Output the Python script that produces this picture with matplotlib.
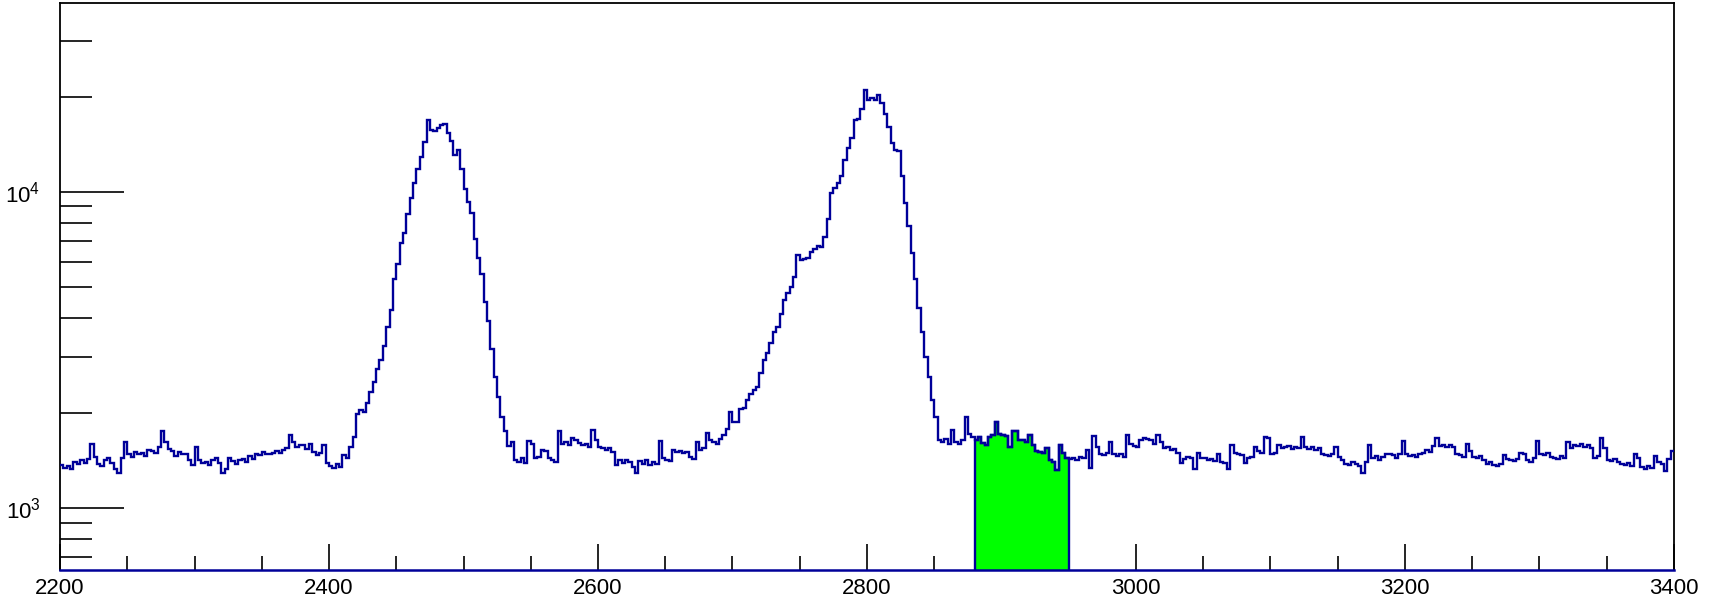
import numpy as np
import matplotlib
matplotlib.use("Agg")
from matplotlib import pyplot as plt
from matplotlib.ticker import MultipleLocator, LogLocator, NullFormatter

# histogram: 2.5-unit bins from 2200 to 3400
bin_lo = 2200
bin_hi = 3400
counts = [
    1370, 1340, 1360, 1330, 1400, 1380, 1420, 1390, 1430, 1600,   # 2200
    1450, 1380, 1360, 1420, 1440, 1390, 1330, 1290, 1440, 1620,
    1480, 1450, 1510, 1490, 1500, 1460, 1530, 1520, 1500, 1560,   # 2250
    1750, 1620, 1540, 1520, 1460, 1510, 1490, 1480, 1420, 1370,
    1560, 1420, 1390, 1400, 1370, 1420, 1440, 1390, 1290, 1330,   # 2300
    1440, 1410, 1380, 1420, 1430, 1400, 1460, 1430, 1490, 1470,
    1510, 1490, 1480, 1500, 1520, 1500, 1530, 1550, 1700, 1620,   # 2350
    1560, 1590, 1580, 1540, 1600, 1510, 1470, 1500, 1580, 1390,
    1360, 1340, 1380, 1350, 1470, 1440, 1560, 1680, 1990, 2050,   # 2400
    2020, 2150, 2330, 2500, 2750, 2950, 3250, 3750, 4250, 5300,
    5900, 6900, 7400, 8500, 9600, 10700, 11800, 12900, 14400, 16900,  # 2450
    15700, 15600, 15900, 16300, 16400, 15400, 14500, 13100, 13600, 11800,
    10200, 9300, 8600, 7100, 6200, 5500, 4500, 3900, 3200, 2600,  # 2500
    2250, 1950, 1750, 1570, 1620, 1420, 1400, 1440, 1390, 1630,
    1600, 1440, 1450, 1530, 1520, 1440, 1420, 1400, 1750, 1600,   # 2550
    1620, 1590, 1670, 1650, 1610, 1590, 1600, 1560, 1770, 1640,
    1560, 1550, 1530, 1550, 1510, 1370, 1420, 1390, 1420, 1400,   # 2600
    1350, 1290, 1410, 1380, 1420, 1370, 1400, 1380, 1630, 1440,
    1420, 1410, 1530, 1510, 1520, 1500, 1510, 1450, 1430, 1620,   # 2650
    1530, 1550, 1730, 1640, 1620, 1600, 1660, 1700, 1780, 2010,
    1880, 1870, 2060, 2080, 2200, 2300, 2370, 2420, 2680, 2950,   # 2700
    3100, 3330, 3600, 3750, 4100, 4560, 4780, 5020, 5400, 6300,
    6100, 6150, 6200, 6480, 6600, 6750, 6700, 7200, 8200, 9900,   # 2750
    10300, 10700, 11200, 12600, 13800, 14800, 16900, 17000, 18300, 21000,
    19600, 19800, 19500, 20300, 19100, 17700, 16100, 14300, 13600, 13500,  # 2800
    11200, 9200, 7800, 6400, 5300, 4300, 3600, 3000, 2600, 2200,
    1950, 1650, 1620, 1660, 1600, 1770, 1620, 1600, 1650, 1950,   # 2850
    1720, 1680, 1640, 1680, 1610, 1590, 1680, 1700, 1870, 1720,
    1700, 1690, 1560, 1750, 1760, 1650, 1640, 1620, 1700, 1580,   # 2900
    1520, 1510, 1500, 1550, 1420, 1400, 1320, 1590, 1500, 1440,
    1430, 1440, 1420, 1450, 1440, 1530, 1340, 1690, 1560, 1480,   # 2950
    1470, 1500, 1620, 1490, 1460, 1480, 1450, 1700, 1600, 1570,
    1560, 1650, 1670, 1660, 1640, 1600, 1700, 1620, 1550, 1560,   # 3000
    1530, 1540, 1500, 1390, 1430, 1450, 1440, 1330, 1500, 1440,
    1440, 1420, 1430, 1410, 1480, 1400, 1390, 1335, 1590, 1500,   # 3050
    1480, 1470, 1390, 1440, 1450, 1560, 1520, 1500, 1680, 1670,
    1490, 1500, 1580, 1550, 1560, 1570, 1540, 1560, 1550, 1680,   # 3100
    1560, 1540, 1560, 1530, 1550, 1480, 1470, 1460, 1480, 1560,
    1450, 1420, 1380, 1370, 1400, 1380, 1360, 1290, 1400, 1590,   # 3150
    1440, 1460, 1420, 1450, 1490, 1480, 1470, 1440, 1480, 1630,
    1480, 1460, 1470, 1450, 1490, 1500, 1530, 1510, 1570, 1670,   # 3200
    1570, 1580, 1560, 1590, 1560, 1480, 1470, 1450, 1600, 1520,
    1450, 1440, 1460, 1420, 1380, 1400, 1370, 1360, 1380, 1470,   # 3250
    1430, 1420, 1410, 1430, 1500, 1480, 1420, 1400, 1440, 1630,
    1490, 1470, 1500, 1450, 1440, 1430, 1460, 1440, 1620, 1550,   # 3300
    1580, 1570, 1600, 1560, 1580, 1550, 1440, 1460, 1670, 1550,
    1420, 1410, 1430, 1400, 1380, 1370, 1390, 1360, 1490, 1440,   # 3350
    1350, 1330, 1360, 1340, 1460, 1400, 1380, 1310, 1430, 1520,
]

# shaded integration window
win_lo = 2880
win_hi = 2950

y_lo = 640
y_hi = 39500

navy = "#000099"
green = "#00ff00"

plt.rcParams["font.family"] = ["Liberation Sans", "DejaVu Sans"]

counts = np.array(counts, dtype=float)
edges = np.linspace(bin_lo, bin_hi, len(counts) + 1)

fig = plt.figure(figsize=(17.11, 6.05), dpi=100)
ax = fig.add_axes([0.03507, 0.0585, 0.9433, 0.936])

# green window under the curve
i0 = int(np.argmin(np.abs(edges - win_lo)))
i1 = int(np.argmin(np.abs(edges - win_hi)))
ax.stairs(counts[i0:i1], edges[i0:i1 + 1], baseline=y_lo, fill=True,
          color=green, zorder=2)
ax.stairs(counts[i0:i1], edges[i0:i1 + 1], baseline=y_lo, fill=False,
          color=navy, lw=1.7, zorder=3)

ax.stairs(counts, edges, baseline=None, color=navy, lw=1.7, zorder=4)

ax.set_yscale("log")
ax.set_xlim(bin_lo, bin_hi)
ax.set_ylim(y_lo, y_hi)

ax.xaxis.set_major_locator(MultipleLocator(200))
ax.xaxis.set_minor_locator(MultipleLocator(50))
ax.yaxis.set_major_locator(LogLocator(base=10))
ax.yaxis.set_minor_locator(LogLocator(base=10, subs=np.arange(2, 10)))
ax.yaxis.set_minor_formatter(NullFormatter())

ax.tick_params(axis="both", which="both", direction="in", colors="black",
               width=1.2, labelsize=16)
ax.tick_params(axis="x", which="major", length=19, pad=6)
ax.tick_params(axis="x", which="minor", length=10)
ax.tick_params(axis="y", which="major", length=46, pad=14)
ax.tick_params(axis="y", which="minor", length=23)
ax.tick_params(top=False, right=False)

for side in ["left", "top", "right"]:
    ax.spines[side].set_linewidth(1.3)
    ax.spines[side].set_color("black")
ax.spines["bottom"].set_linewidth(1.8)
ax.spines["bottom"].set_color(navy)
ax.spines["bottom"].set_zorder(5)

fig.savefig("out.png", dpi=100)
